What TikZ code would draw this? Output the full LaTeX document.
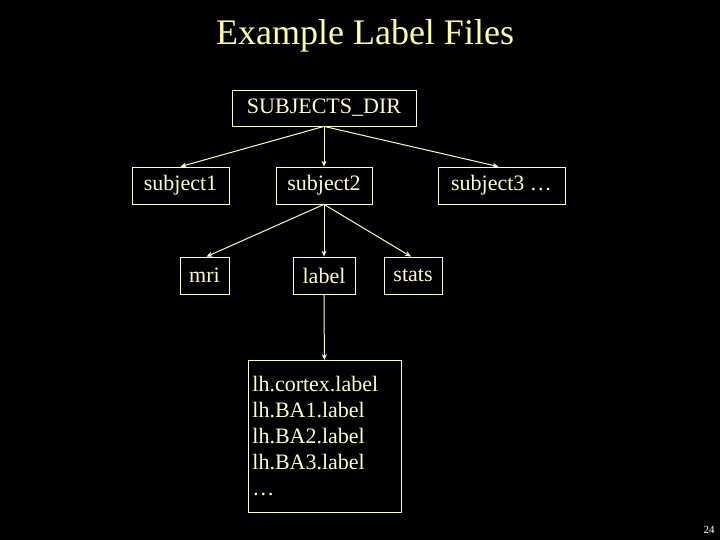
\documentclass[tikz,border=0pt]{standalone}
\usepackage{fontspec}
\usetikzlibrary{arrows.meta}
\setmainfont{Liberation Serif}
\definecolor{fg}{HTML}{FFFFC0}
\definecolor{ttl}{HTML}{FFFF99}
\begin{document}
\begin{tikzpicture}[x=1pt,y=-1pt,
  bx/.style={draw=fg,text=fg,line width=0.8pt,inner sep=0pt,font=\fontsize{22}{26}\selectfont},
  ar/.style={draw=fg,line width=1pt,-{Stealth[length=6pt,width=5pt]}}]
\fill[black] (0,0) rectangle (720,540);
\useasboundingbox (0,0) rectangle (720,540);
\node[text=ttl,font=\fontsize{36}{40}\selectfont] (title) at (365,36) {Example Label Files};
\node[bx,minimum width=184pt,minimum height=36pt] (sd) at (324,108) {SUBJECTS\_DIR};
\node[bx,minimum width=97pt,minimum height=37pt] (s1) at (180.5,185.5) {subject1};
\node[bx,minimum width=96pt,minimum height=37pt] (s2) at (324,185.5) {subject2};
\node[bx,minimum width=127pt,minimum height=37pt] (s3) at (501.5,185.5) {subject3 \dots};
\node[bx,minimum width=49pt,minimum height=37pt] (mri) at (204.5,275.5) {mri};
\node[bx,minimum width=62pt,minimum height=37pt] (lab) at (324,275.5) {label};
\node[bx,minimum width=58pt,minimum height=37pt] (st) at (413,275.5) {stats};
\node[bx,minimum width=153pt,minimum height=152pt,align=left,anchor=north west,text width=145pt,inner xsep=4pt] (list) at (248,360) {\fontsize{22}{26}\selectfont lh.cortex.label\\lh.BA1.label\\lh.BA2.label\\lh.BA3.label\\\dots};
\node[text=white,font=\fontsize{11}{12}\selectfont] (pg) at (709,530) {24};
\draw[ar] (sd.south) -- (s1.north);
\draw[ar] (sd.south) -- (s2.north);
\draw[ar] (sd.south) -- ([xshift=-3pt]s3.north);
\draw[ar] (s2.south) -- ([xshift=2pt]mri.north);
\draw[ar] (s2.south) -- (lab.north);
\draw[ar] (s2.south) -- ([xshift=-2pt]st.north);
\draw[ar] (lab.south) -- ([xshift=-0.5pt]list.north);
\end{tikzpicture}
\end{document}
